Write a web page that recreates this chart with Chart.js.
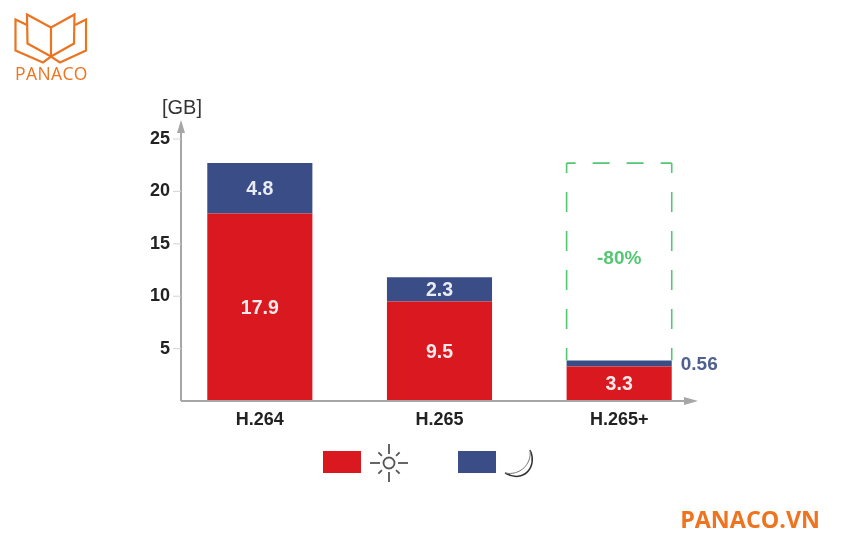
<!DOCTYPE html>
<html>
<head>
<meta charset="utf-8">
<script src="https://cdn.jsdelivr.net/npm/chart.js@4"></script>
<style>
  html, body { margin: 0; background: #fff; }
  #wrap { position: relative; width: 850px; height: 533px; overflow: hidden; }
  #chart { position: absolute; left: 0; top: 0; filter: blur(0.4px); }
  #logo { position: absolute; left: 0; top: 0; }
  .brand { position: absolute; color: #ee7420; font-family: "Open Sans", sans-serif; white-space: nowrap; }
  #brandTop { left: 15px; top: 63px; font-size: 17.5px; line-height: 20px; letter-spacing: 0.4px; }
  #brandBottom { right: 30px; top: 504px; font-size: 23.3px; line-height: 30px; font-weight: 700; }
</style>
</head>
<body>
<div id="wrap">
  <canvas id="chart" width="850" height="533"></canvas>
  <svg id="logo" width="100" height="70" fill="none" stroke="#ea7420" stroke-width="2.2" stroke-linejoin="miter">
    <path d="M27 14.5 L51 27.5 L74.5 14.5 L74 43.5 L51 56.5 L27.5 43.5 Z"/>
    <path d="M51 27.5 V56.5"/>
    <path d="M27 25 L15.5 19.5 V50.5 L43 62.5 L51 56.5 L60 62.5 L86 50.5 V19.5 L75 25"/>
  </svg>
  <div id="brandTop" class="brand">PANACO</div>
  <div id="brandBottom" class="brand">PANACO.VN</div>
</div>
<script>
const categories = ["H.264", "H.265", "H.265+"];
const dayValues = [17.9, 9.5, 3.3];
const nightValues = [4.8, 2.3, 0.56];
const yTicks = [5, 10, 15, 20, 25];
const reductionLabel = "-80%";
const unitLabel = "[GB]";

const RED = "#d9181f";
const BLUE = "#3a4d87";
const GREEN = "#55c673";
const AXIS = "#a6a6a6";
const FONT = '"Liberation Sans", sans-serif';

const overlay = {
  id: "overlay",
  beforeDatasetsDraw(chart) {
    const c = chart.ctx, y = chart.scales.y, x = chart.scales.x;
    const x0 = x.left + 11, y0 = y.getPixelForValue(0);
    c.save();
    c.strokeStyle = AXIS;
    c.fillStyle = AXIS;
    c.lineWidth = 2;
    // y axis and tick marks
    c.beginPath();
    c.moveTo(x0, y0);
    c.lineTo(x0, 130);
    c.stroke();
    c.lineWidth = 1;
    yTicks.forEach((t) => {
      const py = y.getPixelForValue(t);
      c.strokeStyle = "#d4d4d4";
      c.beginPath();
      c.moveTo(x0 - 8, py);
      c.lineTo(x0, py);
      c.stroke();
    });
    c.beginPath();
    c.moveTo(x0, 120);
    c.lineTo(x0 - 4, 133);
    c.lineTo(x0 + 4, 133);
    c.fill();
    c.restore();
  },
  afterDatasetsDraw(chart) {
    const c = chart.ctx, y = chart.scales.y, x = chart.scales.x;
    const x0 = x.left + 11, y0 = y.getPixelForValue(0);
    c.save();

    // x axis on top of the bars
    c.strokeStyle = AXIS;
    c.fillStyle = AXIS;
    c.lineWidth = 2;
    c.beginPath();
    c.moveTo(x0, y0);
    c.lineTo(686, y0);
    c.stroke();
    c.beginPath();
    c.moveTo(698, y0);
    c.lineTo(684, y0 - 4);
    c.lineTo(684, y0 + 4);
    c.fill();

    // value labels inside the bars
    c.textAlign = "center";
    c.textBaseline = "middle";
    c.font = "bold 19.5px " + FONT;
    const dayBars = chart.getDatasetMeta(0).data;
    const nightBars = chart.getDatasetMeta(1).data;
    dayBars.forEach((bar, i) => {
      c.fillStyle = "#fbeaea";
      c.fillText(String(dayValues[i]), bar.x, (bar.y + bar.base) / 2 + 1);
    });
    nightBars.forEach((bar, i) => {
      if (nightValues[i] < 1) return;
      c.fillStyle = "#e8ebf3";
      c.fillText(String(nightValues[i]), bar.x, (bar.y + bar.base) / 2 + 1);
    });

    // small night value beside the last bar
    const last = nightBars[2];
    c.fillStyle = "#4d6090";
    c.textAlign = "left";
    c.font = "bold 19px " + FONT;
    c.fillText(String(nightValues[2]), last.x + last.width / 2 + 9, last.y + 4);

    // dashed box for the reduction
    const left = last.x - last.width / 2, right = last.x + last.width / 2;
    const top = y.getPixelForValue(dayValues[0] + nightValues[0]);
    c.strokeStyle = GREEN;
    c.lineWidth = 1.6;
    c.setLineDash([17, 17]);
    c.lineDashOffset = 8;
    c.beginPath();
    c.moveTo(left, top);
    c.lineTo(right, top);
    c.stroke();
    c.setLineDash([20, 19]);
    c.lineDashOffset = 10;
    [left, right].forEach((px) => {
      c.beginPath();
      c.moveTo(px, top);
      c.lineTo(px, last.y);
      c.stroke();
    });
    c.setLineDash([]);
    c.fillStyle = GREEN;
    c.textAlign = "center";
    c.font = "bold 19px " + FONT;
    c.fillText(reductionLabel, last.x, 259);

    // unit
    c.fillStyle = "#333";
    c.font = "20px " + FONT;
    c.fillText(unitLabel, 182, 108);

    // legend swatches and icons
    c.fillStyle = RED;
    c.fillRect(323, 451, 38, 22);
    c.fillStyle = BLUE;
    c.fillRect(458, 451, 38, 22);

    c.strokeStyle = "#555";
    c.lineWidth = 1.8;
    c.beginPath();
    c.arc(389, 463, 5.5, 0, Math.PI * 2);
    c.stroke();
    for (let k = 0; k < 8; k++) {
      const a = (k * Math.PI) / 4;
      const r1 = k % 2 ? 10 : 9, r2 = k % 2 ? 15 : 19;
      c.beginPath();
      c.moveTo(389 + r1 * Math.cos(a), 463 + r1 * Math.sin(a));
      c.lineTo(389 + r2 * Math.cos(a), 463 + r2 * Math.sin(a));
      c.stroke();
    }

    // crescent: thin dark outer rim and a lighter inner edge
    c.strokeStyle = "#333";
    c.lineWidth = 1.5;
    c.beginPath();
    c.moveTo(530, 450);
    c.bezierCurveTo(538, 466, 524, 484, 505, 473);
    c.stroke();
    c.strokeStyle = "#777";
    c.lineWidth = 1;
    c.beginPath();
    c.moveTo(530, 450);
    c.bezierCurveTo(532, 464, 520, 476, 505, 473);
    c.stroke();
    c.restore();
  }
};

new Chart(document.getElementById("chart"), {
  type: "bar",
  data: {
    labels: categories,
    datasets: [
      { label: "Day", data: dayValues, backgroundColor: RED },
      { label: "Night", data: nightValues, backgroundColor: BLUE }
    ]
  },
  options: {
    responsive: false,
    animation: false,
    layout: { padding: { left: 130, right: 141, top: 139, bottom: 100 } },
    plugins: { legend: { display: false }, tooltip: { enabled: false } },
    datasets: { bar: { categoryPercentage: 1, barPercentage: 0.585 } },
    scales: {
      x: {
        stacked: true,
        grid: { display: false },
        border: { display: false },
        afterFit(scale) { scale.height = 32; },
        ticks: {
          padding: 0,
          color: "#222",
          font: { family: FONT, size: 18, weight: "bold" }
        }
      },
      y: {
        stacked: true,
        min: 0,
        max: 25,
        grid: { display: false, drawTicks: false },
        border: { display: false },
        afterFit(scale) { scale.width = 40; },
        afterBuildTicks(scale) { scale.ticks = yTicks.map((value) => ({ value })); },
        ticks: {
          padding: 0,
          color: "#222",
          font: { family: FONT, size: 18, weight: "bold" }
        }
      }
    }
  },
  plugins: [overlay]
});
</script>
</body>
</html>
